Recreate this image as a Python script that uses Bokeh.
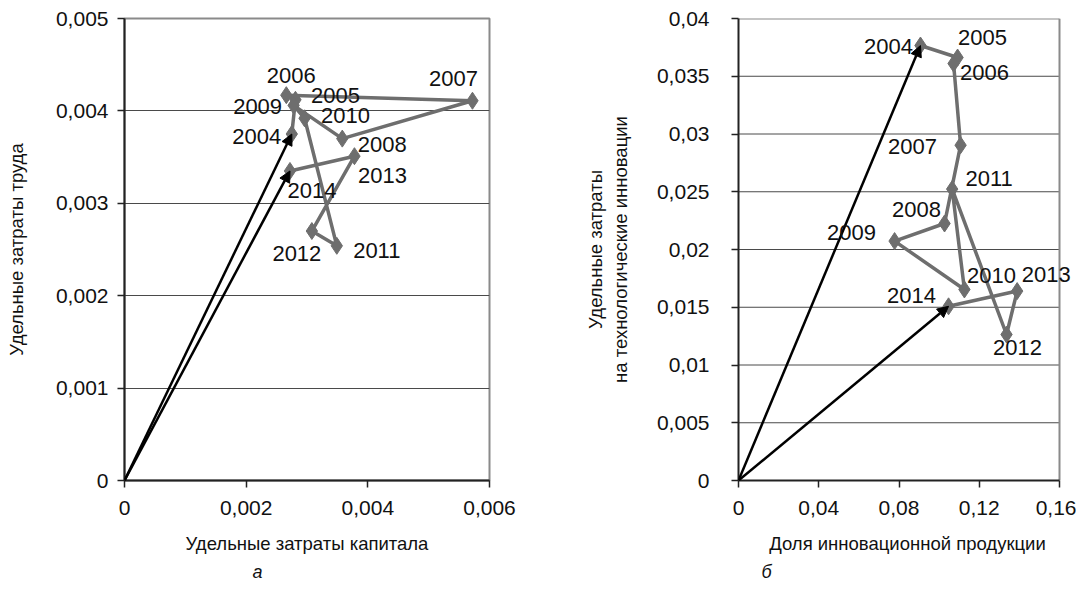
from bokeh.plotting import figure
from bokeh.layouts import row
from bokeh.models import Arrow, NormalHead, Title, LabelSet, ColumnDataSource, FixedTicker, Range1d
from bokeh.core.properties import value
from bokeh.embed import file_html
from bokeh.resources import INLINE

# ---------------- data ----------------
years = ["2004", "2005", "2006", "2007", "2008", "2009", "2010", "2011", "2012", "2013", "2014"]

# panel а
capital_cost = [0.00275, 0.00281, 0.00266, 0.00572, 0.00358, 0.00278, 0.00296, 0.00349, 0.00308, 0.00378, 0.00272]
labor_cost = [0.00375, 0.00412, 0.00417, 0.00411, 0.00370, 0.00406, 0.00392, 0.00254, 0.00270, 0.00351, 0.00335]

# panel б
innov_share = [0.0907, 0.1092, 0.1072, 0.1107, 0.1027, 0.0778, 0.1126, 0.1065, 0.1336, 0.1389, 0.1047]
innov_cost = [0.03766, 0.03662, 0.0361, 0.02903, 0.02225, 0.02073, 0.01654, 0.02523, 0.01264, 0.0164, 0.01508]

xticks_a = [0, 0.002, 0.004, 0.006]
xlabels_a = ["0", "0,002", "0,004", "0,006"]
yticks_a = [0, 0.001, 0.002, 0.003, 0.004, 0.005]
ylabels_a = ["0", "0,001", "0,002", "0,003", "0,004", "0,005"]

xticks_b = [0, 0.04, 0.08, 0.12, 0.16]
xlabels_b = ["0", "0,04", "0,08", "0,12", "0,16"]
yticks_b = [0, 0.005, 0.01, 0.015, 0.02, 0.025, 0.03, 0.035, 0.04]
ylabels_b = ["0", "0,005", "0,01", "0,015", "0,02", "0,025", "0,03", "0,035", "0,04"]

# label offsets (screen px, y pointing down) for the year labels
dx_a = [-35, 40, 5, -19, 40, -36, 41, 40, -15, 28, 22]
dy_a = [2, -4, -20, -22, 6, 1, -3, 5, 22, 19, 20]
dx_b = [-32, 25, 31, -48, -28, -43, 27, 37, 11, 29, -37]
dy_b = [1, -20, 9, 1, -14, -9, -14, -11, 13, -17, -11]

FONT = "Liberation Sans"
LINE_C = "#6e6e6e"
GRID_C = "#4a4a4a"
BORDER_C = "#8a8a8a"
TXT_C = "#111111"


def make_panel(xs, ys, dx, dy, xticks, xlabels, yticks, ylabels, xlab, ylab,
               fw, extra, min_left, min_right, ystandoff, ylab_standoff, letter, letter_offset):
    x0, x1 = xticks[0], xticks[-1]
    y0, y1 = yticks[0], yticks[-1]
    # 'extra' px of empty frame to the right of the chart area so labels are not clipped
    xview = x1 + (x1 - x0) * extra / fw
    p = figure(frame_width=fw + extra, frame_height=462,
               x_range=Range1d(x0, xview), y_range=Range1d(y0, y1),
               output_backend="svg", toolbar_location=None,
               min_border_left=min_left, min_border_right=min_right,
               min_border_top=18, min_border_bottom=104)
    p.background_fill_color = "white"
    p.border_fill_color = "white"
    p.xgrid.visible = False

    if extra == 0:
        p.outline_line_color = BORDER_C
        p.outline_line_width = 2
        p.ygrid.ticker = FixedTicker(ticks=yticks[1:-1])
        p.ygrid.grid_line_color = GRID_C
        p.ygrid.grid_line_width = 1
    else:
        p.outline_line_color = None
        p.ygrid.visible = False
        gy = yticks[1:-1]
        p.segment(x0=[x0] * len(gy), y0=gy, x1=[x1] * len(gy), y1=gy,
                  line_color=GRID_C, line_width=1)
        p.segment(x0=[x0, x1], y0=[y1, y0], x1=[x1, x1], y1=[y1, y1],
                  line_color=BORDER_C, line_width=2)

    p.xaxis.ticker = FixedTicker(ticks=xticks)
    p.yaxis.ticker = FixedTicker(ticks=yticks)
    p.xaxis.bounds = (x0, x1)
    p.xaxis.major_label_overrides = {t: l for t, l in zip(xticks, xlabels)}
    p.yaxis.major_label_overrides = {t: l for t, l in zip(yticks, ylabels)}
    for ax in (p.xaxis, p.yaxis):
        ax.axis_line_color = "#222222"
        ax.axis_line_width = 2
        ax.major_tick_line_color = "#222222"
        ax.major_tick_line_width = 1.5
        ax.major_tick_out = 7
        ax.major_tick_in = 0
        ax.minor_tick_line_color = None
        ax.major_label_text_font = FONT
        ax.major_label_text_font_size = "21px"
        ax.major_label_text_color = TXT_C
        ax.axis_label_text_font = FONT
        ax.axis_label_text_font_size = "18.5px"
        ax.axis_label_text_font_style = "normal"
        ax.axis_label_text_color = TXT_C
    p.xaxis.axis_label = xlab
    p.yaxis.axis_label = ylab
    p.xaxis.major_label_standoff = 13
    p.xaxis.axis_label_standoff = 15
    p.yaxis.major_label_standoff = ystandoff
    p.yaxis.axis_label_standoff = ylab_standoff

    src = ColumnDataSource(dict(x=xs, y=ys, t=years, dx=dx, ndy=[-v for v in dy]))
    p.line("x", "y", source=src, line_color=LINE_C, line_width=3.5)
    p.scatter("x", "y", source=src, marker="diamond", size=17,
              fill_color=LINE_C, line_color=LINE_C)

    for i in (0, len(xs) - 1):
        p.add_layout(Arrow(end=NormalHead(size=11, fill_color="black", line_color="black"),
                           x_start=0, y_start=0, x_end=xs[i], y_end=ys[i],
                           line_color="black", line_width=2.5))

    p.add_layout(LabelSet(x="x", y="y", text="t", source=src, x_offset="dx", y_offset="ndy",
                          text_align="center", text_baseline="middle",
                          text_font=value(FONT), text_font_size="22px", text_color=TXT_C))

    # the axis title is centred on the axis length, so shift it when the frame is extended
    p.xaxis.axis_label_text_align = "center"
    p.add_layout(Title(text=letter, align="left", offset=letter_offset, standoff=7,
                       text_font=FONT, text_font_size="18px", text_font_style="italic",
                       text_color=TXT_C), "below")
    return p


pa = make_panel(capital_cost, labor_cost, dx_a, dy_a, xticks_a, xlabels_a, yticks_a, ylabels_a,
                "Удельные затраты капитала", "Удельные затраты труда",
                365, 0, 124, 70, 9, 26, "а", 128)
pb = make_panel(innov_share, innov_cost, dx_b, dy_b, xticks_b, xlabels_b, yticks_b, ylabels_b,
                "Доля инновационной продукции", "Удельные затраты\nна технологические инновации",
                321, 17, 179, 0, 22, 23, "б", 23)

layout = row(pa, pb)
open("out.html", "w").write(file_html(layout, INLINE))
